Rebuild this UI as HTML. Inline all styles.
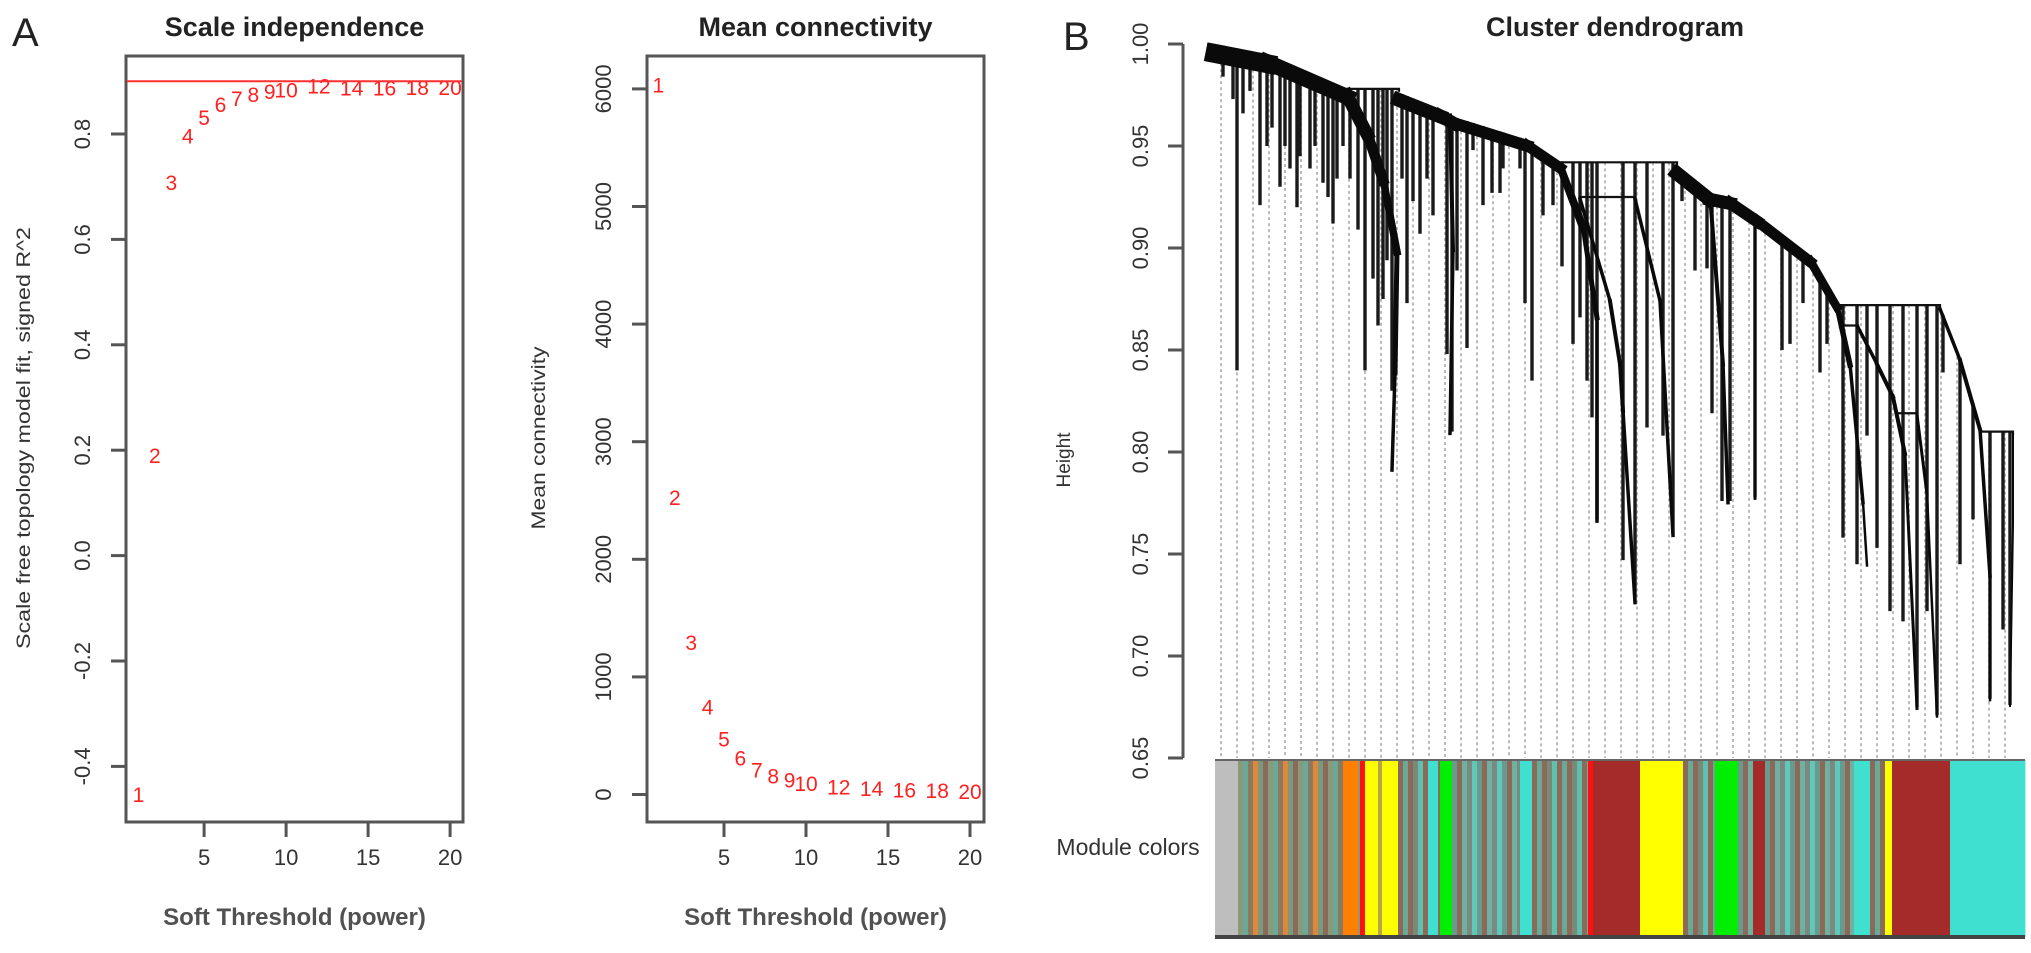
<!DOCTYPE html>
<html><head><meta charset="utf-8"><style>
html,body{margin:0;padding:0;background:#fff;}
svg{display:block;font-family:"Liberation Sans",Arial,sans-serif;}
</style></head><body>
<svg id="fig" width="2031" height="953" viewBox="0 0 2031 953" xmlns="http://www.w3.org/2000/svg">
<text x="12" y="46" font-size="40" fill="#222">A</text>
<text x="1063" y="50" font-size="40" fill="#222">B</text>
<g id="p1"></g>
<g id="p2"></g>
<g id="p3"></g>
</svg>
<script>
// ---------- data ----------
const powers = [1,2,3,4,5,6,7,8,9,10,12,14,16,18,20];
const sftR2 = [-0.454,0.189,0.707,0.795,0.83,0.855,0.866,0.874,0.88,0.883,0.89,0.886,0.886,0.887,0.887];
const meanK = [6030,2520,1290,740,467,305,205,153,119,90,60,45,35,28,22];
const r2Ticks = [-0.4,-0.2,0.0,0.2,0.4,0.6,0.8];
const r2TickLabels = ["-0.4","-0.2","0.0","0.2","0.4","0.6","0.8"];
const kTicks = [0,1000,2000,3000,4000,5000,6000];
const xTicks = [5,10,15,20];
const cutHeight = 0.9;
const hTicks = [0.65,0.70,0.75,0.80,0.85,0.90,0.95,1.00];
const hTickLabels = ["0.65","0.70","0.75","0.80","0.85","0.90","0.95","1.00"];
const bandB1 = [[0,1.0],[52,0.995],[132,0.978],[152,0.959],[168,0.936],[182,0.9],[180,0.84],[177,0.792]];
const bandB2 = [[184,0.976],[225,0.968],[240,0.964],[312,0.953],[345,0.942],[368,0.912],[382,0.867],[382,0.767]];
const bandB2sub = [[235,0.966],[238,0.9],[235,0.81]];
const bandB2tail = [[365,0.925],[395,0.875],[405,0.844],[408,0.821],[420,0.727]];
const bandB3 = [[420,0.925],[445,0.875],[458,0.76]];
const bandB4 = [[462,0.94],[495,0.927],[515,0.925],[542,0.916],[595,0.896],[622,0.873],[635,0.844],[648,0.776],[652,0.745]];
const bandB4a = [[495,0.927],[508,0.844],[513,0.776]];
const bandB4b = [[540,0.916],[540,0.85],[540,0.778]];
const bandB5 = [[643,0.862],[662,0.844],[678,0.828],[690,0.80],[702,0.675]];
const bandB5b = [[702,0.819],[712,0.78],[722,0.671]];
const bandB6 = [[725,0.871],[745,0.846],[765,0.812],[775,0.74],[775,0.679]];
const bandB6b = [[798,0.81],[798,0.765],[795,0.676]];
const bandWidths = [[20,18,14,12,9,6,4,3],[14,14,12,12,10,6,4,3],[4,4,3],[3,4,4,4,3],[3,4,3],[14,14,12,12,10,7,4,3,2],[4,4,3],[3,3,3],[3,4,4,4,2],[3,3,2],[3,4,4,3,2],[2,2,2]];
const merges = [[132,184,0.978],[345,462,0.942],[365,420,0.925],[622,725,0.872],[625,643,0.862],[682,702,0.819],[765,798,0.81]];
const stems = [[8,.984],[18,.973],[22,.840],[28,.966],[35,.977],[45,.921],[52,.950],[57,.959],[65,.930],[70,.950],[75,.939],[82,.920],[85,.945],[95,.939],[100,.950],[108,.932],[113,.925],[118,.912],[122,.934],[128,.950],[135,.934],[143,.909],[150,.840],[158,.885],[163,.862],[168,.875],[177,.830],[172,.894],
[187,.934],[192,.873],[198,.923],[205,.907],[212,.934],[218,.916],[232,.848],[237,.81],[242,.889],[252,.851],[258,.948],[268,.921],[277,.927],[285,.927],[288,.939],[305,.939],[310,.873],[317,.835],[328,.916],[338,.921],[347,.891],[358,.853],[365,.866],[372,.835],[377,.817],[382,.767],
[408,.747],[420,.727],[432,.812],[448,.808],[458,.760],[467,.923],[480,.889],[492,.89],[497,.819],[507,.776],[515,.776],[540,.778],[567,.85],[575,.853],[588,.873],[605,.839],[612,.853],[628,.758],[642,.745],[652,.808],[662,.753],[675,.722],[688,.717],[702,.675],[712,.722],[722,.671],[728,.839],[745,.745],[758,.767],[775,.679],[788,.713],[795,.676]];
const barSegs = [[0,23,'gray'],[23,128,'mixO'],[128,143,'orange'],[143,145,'mixO'],[145,150,'red'],[150,163,'yellow'],[163,167,'olive'],[167,183,'yellow'],[183,213,'mixB'],[213,223,'turq'],[223,225,'mixB'],[225,237,'green'],[237,305,'mixT'],[305,317,'turq'],[317,373,'mixB'],[373,378,'red'],[378,425,'brown'],[425,468,'yellow'],[468,500,'mixB'],[500,523,'green'],[523,538,'mixT'],[538,550,'brown'],[550,639,'mixT'],[639,655,'turq'],[655,670,'mixB'],[670,677,'yellow'],[677,735,'brown'],[735,810,'turq']];

const NS="http://www.w3.org/2000/svg";
function mk(parent,tag,attrs,txt){const e=document.createElementNS(NS,tag);for(const k in attrs)e.setAttribute(k,attrs[k]);if(txt!==undefined)e.textContent=txt;parent.appendChild(e);return e;}
const INK="#333";

function scatterPanel(g,box,xs,ys,yTicks,yLabels,ylab,ylabLen,title,yPix){
  const sx=v=>box.x0+(v-1)*box.ux;
  const sy=v=>yPix.y0+(v-yPix.v0)*yPix.k;
  let r=mk(g,'rect',{x:box.l,y:box.t,width:box.r-box.l,height:box.b-box.t,fill:'none',stroke:'#555','stroke-width':3});
  
  
  let t=mk(g,'text',{x:(box.l+box.r)/2,y:36,'font-size':27,'font-weight':'bold','text-anchor':'middle',fill:'#222'},title);
  
  
  xTicks.forEach(v=>{
    const tk=mk(g,'line',{x1:sx(v),x2:sx(v),y1:box.b,y2:box.b+15,stroke:'#555','stroke-width':3});
    
    
    const tl=mk(g,'text',{x:sx(v),y:865,'font-size':22,'text-anchor':'middle',fill:INK},String(v));
    
    
  });
  yTicks.forEach((v,i)=>{
    const y=sy(v);
    const tk=mk(g,'line',{x1:box.l-15,x2:box.l,y1:y,y2:y,stroke:'#555','stroke-width':3});
    
    
    const tl=mk(g,'text',{x:0,y:0,'font-size':22,'text-anchor':'middle',fill:INK,transform:`translate(${box.l-36},${y}) rotate(-90)`},yLabels[i]);
    
    
  });
  const xl=mk(g,'text',{x:(box.l+box.r)/2,y:925,'font-size':24,'text-anchor':'middle',fill:INK,'font-weight':'bold','fill-opacity':0.85},'Soft Threshold (power)');
  
  
  const yl=mk(g,'text',{x:0,y:0,'font-size':19,'text-anchor':'middle',fill:INK,textLength:ylabLen,lengthAdjust:'spacingAndGlyphs',transform:`translate(${box.yl},438) rotate(-90)`},ylab);
  
  
  xs.forEach((p,i)=>{
    const pt=mk(g,'text',{x:sx(p),y:sy(ys[i])+7,'font-size':21,'text-anchor':'middle',fill:'#ff2020'},String(p));
    
    
  });
  return {sx,sy};
}

const p1=document.getElementById('p1');
const s1=scatterPanel(p1,{l:126,r:463,t:56,b:822,x0:138.5,ux:16.4,yl:30},powers,sftR2,r2Ticks,r2TickLabels,'Scale free topology model fit, signed R^2',422,'Scale independence',{y0:134,v0:0.8,k:-527});
const cl=mk(p1,'line',{x1:127,x2:462,y1:s1.sy(cutHeight),y2:s1.sy(cutHeight),stroke:'#ff3030','stroke-width':2});



const p2=document.getElementById('p2');
scatterPanel(p2,{l:647,r:984,t:56,b:822,x0:658.4,ux:16.4,yl:545},powers,meanK,kTicks,kTicks.map(String),'Mean connectivity',183,'Mean connectivity',{y0:794.5,v0:0,k:-0.1176});

const p3=document.getElementById('p3');
const X0=1215, H0y=44;
const dx=p=>X0+p;
const dy=h=>H0y+(1-h)*2040;
const tt=mk(p3,'text',{x:1615,y:36,'font-size':27,'font-weight':'bold','text-anchor':'middle',fill:'#222'},'Cluster dendrogram');


const ax=mk(p3,'line',{x1:1183,x2:1183,y1:dy(1.0),y2:dy(0.65),stroke:'#555','stroke-width':3});


hTicks.forEach((v,i)=>{
  const tk=mk(p3,'line',{x1:1168,x2:1183,y1:dy(v),y2:dy(v),stroke:'#555','stroke-width':3});
  
  
  const tl=mk(p3,'text',{x:0,y:0,'font-size':22,'text-anchor':'middle',fill:INK,transform:`translate(${1148},${dy(v)}) rotate(-90)`},hTickLabels[i]);
  
  
});
const hl=mk(p3,'text',{x:0,y:0,'font-size':19,'text-anchor':'middle',fill:INK,transform:'translate(1070,460) rotate(-90)'},'Height');



const bands=[bandB1,bandB2,bandB2sub,bandB2tail,bandB3,bandB4,bandB4a,bandB4b,bandB5,bandB5b,bandB6,bandB6b];
function topH(p){
  let best=null;
  bands.forEach(b=>{
    for(let i=0;i<b.length-1;i++){
      const a=b[i],c=b[i+1];
      const lo=Math.min(a[0],c[0]),hi=Math.max(a[0],c[0]);
      if(p>=lo&&p<=hi&&hi>lo){const h=a[1]+(c[1]-a[1])*(p-a[0])/(c[0]-a[0]);if(best===null||h>best)best=h;}
    }
  });
  merges.forEach(m=>{if(p>=m[0]&&p<=m[1]&&(best===null||m[2]>best))best=m[2];});
  return best;
}
const guides=mk(p3,'g',{});


for(let p=6;p<=800;p+=16){
  const h=topH(p); if(h===null) continue;
  const gl=mk(guides,'line',{x1:dx(p),x2:dx(p),y1:dy(h),y2:758,stroke:'#aaaaaa','stroke-width':1.6,'stroke-dasharray':'3,3'});
  
  
}
const stemG=mk(p3,'g',{});


stems.forEach(s=>{
  const h=topH(s[0])||s[1];
  const ln=mk(stemG,'line',{x1:dx(s[0]),x2:dx(s[0]),y1:dy(h),y2:dy(s[1]),stroke:'#1a1a1a','stroke-width':3.4});
  
  
});
merges.forEach(m=>{
  const ln=mk(p3,'polyline',{points:`${dx(m[0])},${dy(m[2])+3} ${dx(m[0])},${dy(m[2])} ${dx(m[1])},${dy(m[2])} ${dx(m[1])},${dy(m[2])+3}`,fill:'none',stroke:'#111','stroke-width':2.2});
  
  
});
bands.forEach((b,bi)=>{
  const w=bandWidths[bi];
  for(let i=0;i<b.length-1;i++){
    const ww=(w[i]+w[i+1])/2;
    const seg=mk(p3,'line',{x1:dx(b[i][0]),y1:dy(b[i][1])+ww/2,x2:dx(b[i+1][0]),y2:dy(b[i+1][1])+ww/2,stroke:'#0a0a0a','stroke-width':ww,'stroke-linecap':'square'});
    
    
  }
});
const colorMap={gray:'#bebebe',orange:'#ff7f00',red:'#ff1010',yellow:'#ffff00',olive:'#b4a848',turq:'#40e0d0',green:'#00ee00',brown:'#a52a2a'};
const mixes={mixO:['#8a9a78','#6aa898','#8b7a62','#e0883a','#7a9a80','#8b6a5a'],mixB:['#8b6a5a','#6aa898','#8b6a5a','#7a8a78','#5fc0b0'],mixT:['#6a9a8e','#8b6a5a','#70b0a0','#7a8a80','#5fc8b8']};
const barG=mk(p3,'g',{});


barSegs.forEach(s=>{
  if(mixes[s[2]]){
    const pal=mixes[s[2]];let k=0;
    for(let p=s[0];p<s[1];p+=5,k++){
      const r=mk(barG,'rect',{x:dx(p),y:760,width:Math.min(5,s[1]-p)+0.4,height:177,fill:pal[k%pal.length]});
      
      
    }
  } else {
    const r=mk(barG,'rect',{x:dx(s[0]),y:760,width:s[1]-s[0]+0.4,height:177,fill:colorMap[s[2]]});
    
    
  }
});
const bt=mk(p3,'line',{x1:dx(0),x2:dx(810),y1:760,y2:760,stroke:'#666','stroke-width':2});


const bb=mk(p3,'line',{x1:dx(0),x2:dx(810),y1:937,y2:937,stroke:'#444','stroke-width':4});


const mc=mk(p3,'text',{x:1128,y:855,'font-size':23,'text-anchor':'middle',fill:INK},'Module colors');


</script>
</body></html>
